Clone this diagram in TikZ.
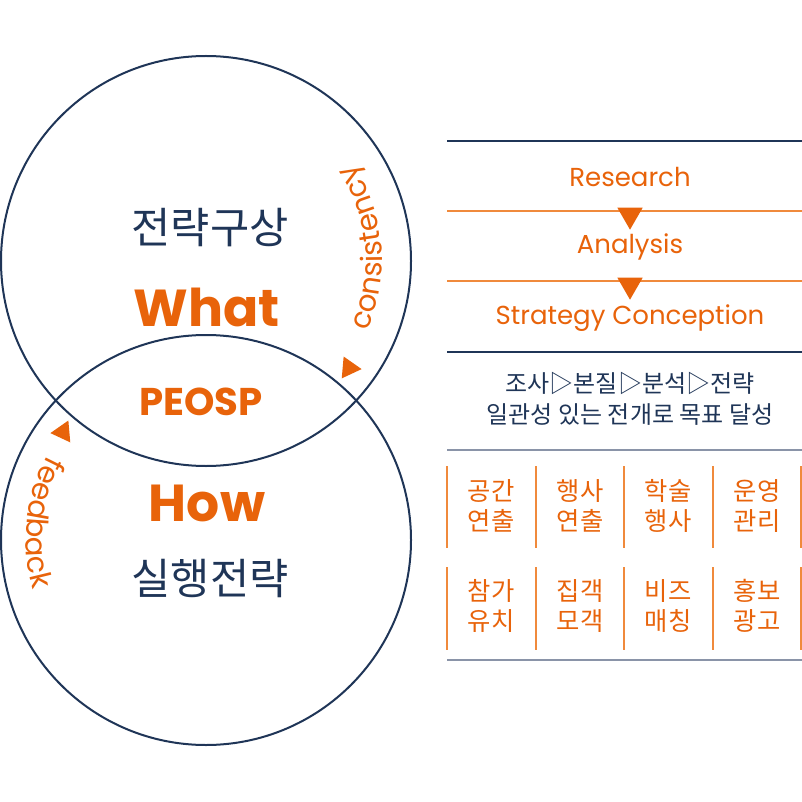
\documentclass[tikz,border=0pt]{standalone}
\usepackage{fontspec}
\setmainfont{Poppins}
\newfontfamily\kr{Noto Sans CJK KR}
\usetikzlibrary{positioning, calc, shapes.geometric, decorations.text}
\definecolor{navy}{HTML}{1F3557}
\definecolor{brand}{HTML}{E8630A}
\definecolor{lineor}{HTML}{F08A3C}
\definecolor{linegr}{HTML}{8A94A8}
\tikzset{
        ring/.style={draw=navy, line width=1.5pt},
        kr-big/.style={text=navy, font=\kr\fontsize{32}{36}\selectfont},
        en-big/.style={text=brand, font=\bfseries\fontsize{39}{42}\selectfont},
        step-label/.style={text=brand, font=\fontsize{19.5}{23}\selectfont},
        cell/.style={text=brand, font=\kr\fontsize{19}{22.5}\selectfont, align=center},
        tip/.style={regular polygon, regular polygon sides=3, fill=brand, inner sep=0pt, minimum size=19pt},
        or-rule/.style={draw=lineor, line width=0.9pt},
        nv-rule/.style={draw=navy, line width=1.6pt},
        gr-rule/.style={draw=linegr, line width=1.6pt},
        col-rule/.style={draw=lineor, line width=0.9pt},
}
\begin{document}
\begin{tikzpicture}[x=0.75pt, y=0.75pt]
        \useasboundingbox (0,0) rectangle (802,801);

        % CIRCLES
        \coordinate (WHAT) at (206,540);
        \coordinate (HOW)  at (206,261);
        \draw [ring] (WHAT) circle [radius=205];
        \draw [ring] (HOW)  circle [radius=205];

        % TEXT IN THE CIRCLES
        \node [kr-big]                        (PLAN)  at (210,573) {전략구상};
        \node [en-big]                        (WHATT) at (207,494) {What};
        \node [en-big, font=\bfseries\fontsize{29}{32}\selectfont] (PEOSP) at (201,399) {PEOSP};
        \node [en-big]                        (HOWT)  at (207,298) {How};
        \node [kr-big]                        (DO)    at (210,223) {실행전략};

        % CURVED LABELS AND TIPS
        \path [decorate, decoration={text along path, text align=center,
               text={|\color{brand}\fontsize{22}{26}\selectfont|consistency}}]
              ($(WHAT)+(-28:176)$) arc [start angle=-28, end angle=38, radius=176];
        \path [decorate, decoration={text along path, text align=center,
               text={|\color{brand}\fontsize{22}{26}\selectfont|feedback}}]
              ($(HOW)+(142:180)$) arc [start angle=142, end angle=206, radius=180];
        \node [tip, rotate=145] (CTIP) at (349,433) {};
        \node [tip, rotate=-25] (FTIP) at (63,369)  {};

        % STEPS
        \coordinate (L) at (447,0);
        \coordinate (R) at (802,0);
        \draw [nv-rule] ($(L)+(0,660)$) -- ($(R)+(0,660)$);
        \draw [or-rule] ($(L)+(0,590)$) -- ($(R)+(0,590)$);
        \draw [or-rule] ($(L)+(0,520)$) -- ($(R)+(0,520)$);
        \draw [nv-rule] ($(L)+(0,449)$) -- ($(R)+(0,449)$);
        \node [tip, rotate=180, minimum size=22pt] (T1) at (630,586) {};
        \node [tip, rotate=180, minimum size=22pt] (T2) at (630,516) {};
        \node [step-label] (RES) at (630,624) {Research};
        \node [step-label] (ANA) at (630,554) {Analysis};
        \node [step-label] (STR) at (630,483) {Strategy Conception};

        % SUMMARY
        \node [text=navy, font=\kr\fontsize{18}{23}\selectfont, align=center] (SUM) at (630,402)
              {조사▷본질▷분석▷전략\\일관성 있는 전개로 목표 달성};
        \draw [gr-rule] ($(L)+(0,351)$) -- ($(R)+(0,351)$);
        \draw [gr-rule] ($(L)+(0,141)$) -- ($(R)+(0,141)$);

        % CELLS
        \foreach \x in {447,536,624,713,801} {
            \draw [col-rule] (\x,335) -- (\x,253);
            \draw [col-rule] (\x,234) -- (\x,151);
        }
        \node [cell] (C1) at (491,295) {공간\\연출};
        \node [cell] (C2) at (580,295) {행사\\연출};
        \node [cell] (C3) at (668,295) {학술\\행사};
        \node [cell] (C4) at (757,295) {운영\\관리};
        \node [cell] (C5) at (491,195) {참가\\유치};
        \node [cell] (C6) at (580,195) {집객\\모객};
        \node [cell] (C7) at (668,195) {비즈\\매칭};
        \node [cell] (C8) at (757,195) {홍보\\광고};

\end{tikzpicture}
\end{document}
